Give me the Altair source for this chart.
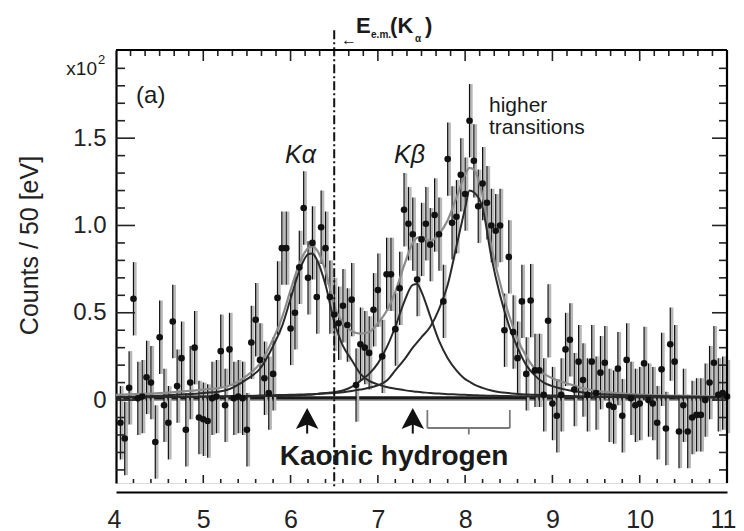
import altair as alt
import pandas as pd

# ---------------- axis extents ----------------
X_DOMAIN = [4.0, 11.0]
Y_DOMAIN = [-0.475, 2.005]
X_LABELS = [4, 5, 6, 7, 8, 9, 10, 11]
Y_LABELS = [0, 0.5, 1.0, 1.5]

# ---------------- measured spectrum (x10^2 counts / 50 eV) ----------------
E_FIRST = 4.05
E_BIN = 0.05
COUNTS = [
    -0.13, -0.22, 0.07, 0.58, 0.01, 0.02, 0.13, 0.10, -0.24, 0.36,
    -0.03, -0.13, 0.45, 0.08, 0.24, -0.17, 0.10, 0.30, -0.10, -0.11,
    -0.12, 0.01, 0.02, 0.28, -0.03, 0.29, 0.01, 0.02, 0.01, -0.17,
    0.33, 0.46, 0.23, 0.125, 0.04, 0.15, 0.585, 0.87, 0.87, 0.41,
    0.50, 0.76, 1.10, 0.70, 0.90, 0.59, 0.99, 0.87, 0.59, 0.49,
    0.44, 0.54, 0.43, 0.575, 0.086, 0.32, 0.30, 0.27, 0.517, 0.63,
    0.25, 0.72, 0.72, 0.406, 0.64, 1.09, 1.01, 0.95, 0.69, 0.92,
    1.01, 0.89, 1.06, 0.95, 0.565, 1.38, 1.015, 1.05, 1.29, 1.18,
    1.60, 1.37, 1.11, 1.24, 1.13, 1.00, 0.97, 1.00, 0.40, 0.82,
    0.39, 0.24, 0.565, 0.15, 0.57, 0.17, 0.17, 0.03, 0.454, -0.02,
    -0.09, 0.03, 0.29, 0.345, 0.06, 0.22, 0.115, 0.03, 0.22, 0.04,
    0.157, 0.214, -0.03, -0.04, 0.18, -0.09, 0.23, 0.01, -0.03, -0.02,
    0.21, 0.0, -0.02, -0.13, 0.176, -0.163, 0.32, 0.22, -0.18, -0.03,
    -0.18, -0.10, -0.085, -0.085, 0.0, 0.10, 0.214, 0.03, 0.04, 0.02,
]
STAT_ERR = 0.21

# ---------------- fit curves ----------------
CURVE_E = [4.0, 4.5, 5.0, 5.25, 5.5, 5.65, 5.8, 5.9, 6.0, 6.1, 6.2, 6.25, 6.3, 6.4,
           6.5, 6.6, 6.7, 6.8, 6.9, 7.0, 7.1, 7.2, 7.3, 7.4, 7.45, 7.5, 7.6, 7.7,
           7.8, 7.9, 8.0, 8.05, 8.1, 8.2, 8.3, 8.4, 8.5, 8.6, 8.7, 8.8, 8.9, 9.0,
           9.2, 9.4, 9.7, 10.0, 10.5, 11.0]
KALPHA = [0.018, 0.025, 0.04, 0.055, 0.12, 0.18, 0.31, 0.42, 0.58, 0.74, 0.835, 0.84,
          0.805, 0.66, 0.45, 0.31, 0.23, 0.15, 0.11, 0.09, 0.075, 0.065, 0.057, 0.05,
          0.047, 0.045, 0.04, 0.037, 0.034, 0.032, 0.03, 0.029, 0.028, 0.026, 0.025,
          0.024, 0.023, 0.022, 0.021, 0.02, 0.02, 0.019, 0.018, 0.018, 0.017, 0.016,
          0.015, 0.015]
KBETA = [0.016, 0.017, 0.019, 0.02, 0.021, 0.022, 0.023, 0.024, 0.025, 0.027, 0.03,
         0.032, 0.035, 0.04, 0.045, 0.055, 0.075, 0.11, 0.15, 0.21, 0.30, 0.42, 0.56,
         0.66, 0.665, 0.62, 0.48, 0.34, 0.24, 0.17, 0.12, 0.105, 0.09, 0.07, 0.055,
         0.045, 0.04, 0.035, 0.032, 0.03, 0.028, 0.026, 0.023, 0.021, 0.02, 0.018,
         0.017, 0.016]
HIGHER = [0.016, 0.017, 0.02, 0.022, 0.024, 0.026, 0.028, 0.029, 0.03, 0.032, 0.033,
          0.034, 0.035, 0.038, 0.04, 0.045, 0.052, 0.06, 0.07, 0.085, 0.11, 0.17, 0.23,
          0.30, 0.33, 0.36, 0.42, 0.52, 0.66, 0.88, 1.10, 1.20, 1.19, 1.10, 0.82, 0.60,
          0.43, 0.30, 0.20, 0.14, 0.10, 0.08, 0.055, 0.04, 0.03, 0.025, 0.02, 0.017]
TOTAL = [0.03, 0.04, 0.06, 0.075, 0.14, 0.21, 0.35, 0.47, 0.63, 0.78, 0.87, 0.88, 0.86,
         0.74, 0.54, 0.44, 0.395, 0.38, 0.39, 0.44, 0.51, 0.62, 0.77, 0.90, 0.93,
         0.935, 0.91, 0.95, 1.03, 1.16, 1.29, 1.33, 1.32, 1.17, 0.88, 0.67, 0.49, 0.35,
         0.25, 0.18, 0.15, 0.125, 0.09, 0.062, 0.042, 0.032, 0.024, 0.02]
BASE_E = [4.0, 11.0]
BASE_V = [0.012, 0.012]

# ---------------- annotations ----------------
EM_LINE_E = 6.50
EM_LINE_TOP = 2.118
EM_LINE_BOTTOM = -0.50
ARROW_E = [6.19, 7.40]
ARROW_TIP_CENTER = -0.131
ARROW_STEM_END = -0.192
BRACKET_L, BRACKET_R, BRACKET_C = 7.567, 8.512, 8.042
BRACKET_Y, BRACKET_TOP, BRACKET_TICK = -0.160, -0.057, -0.197

FONT = "Liberation Sans"
INK = "#111111"

W, H = 611, 433

x_axis = alt.Axis(values=X_LABELS, format="d", ticks=False, domainColor="#000", domainWidth=2.2,
                  labelFontSize=25, labelColor="#222", labelPadding=15, offset=9, grid=False,
                  title=None, labelFont=FONT, labelFlush=True, labelFlushOffset=9,
                  labelOverlap=False)
y_axis = alt.Axis(values=Y_LABELS, labelExpr="datum.value == 0 ? '0' : format(datum.value, '.1f')",
                  ticks=False, domainColor="#000", domainWidth=2.2, labelFontSize=24,
                  labelColor="#222", labelPadding=10, grid=False, labelFont=FONT,
                  title="Counts / 50 [eV]", titleFontSize=25, titleFontWeight="normal",
                  titleFont=FONT, titleColor="#222", titleX=-79, titleY=195, titleAngle=270,
                  titleBaseline="alphabetic", titleAlign="center")


def X(field):
    return alt.X(field, type="quantitative",
                 scale=alt.Scale(domain=X_DOMAIN, nice=False, zero=False), axis=x_axis)


def Y(field):
    return alt.Y(field, type="quantitative",
                 scale=alt.Scale(domain=Y_DOMAIN, nice=False, zero=False), axis=y_axis)


energies = [round(E_FIRST + E_BIN * i, 3) for i in range(len(COUNTS))]
pts = pd.DataFrame({"E": energies, "v": COUNTS})
pts["lo"] = pts["v"] - STAT_ERR
pts["hi"] = pts["v"] + STAT_ERR

curves = pd.DataFrame({"E": CURVE_E, "ka": KALPHA, "kb": KBETA, "hi": HIGHER, "tot": TOTAL})
base = pd.DataFrame({"E": BASE_E, "v": BASE_V})
zero = pd.DataFrame({"E": BASE_E, "v": [0.0, 0.0]})

layers = []

# thin zero line and thick background fit line
layers.append(alt.Chart(zero).mark_line(color="#555", strokeWidth=1).encode(x=X("E"), y=Y("v")))
layers.append(alt.Chart(base).mark_line(color="#1a1a1a", strokeWidth=3.2).encode(x=X("E"), y=Y("v")))

# grey shadow bars and black statistical error bars
layers.append(alt.Chart(pts).mark_rule(color="#b8b8b8", strokeWidth=2.8, xOffset=1.8).encode(
    x=X("E"), y=Y("lo"), y2=alt.Y2("hi")))
layers.append(alt.Chart(pts).mark_rule(color=INK, strokeWidth=1.2).encode(
    x=X("E"), y=Y("lo"), y2=alt.Y2("hi")))

# fit curves
layers.append(alt.Chart(curves).mark_line(color="#8c8c8c", strokeWidth=2.2, interpolate="monotone",
                                          clip=True).encode(x=X("E"), y=Y("tot")))
for col in ["ka", "kb", "hi"]:
    layers.append(alt.Chart(curves).mark_line(color="#2a2a2a", strokeWidth=2,
                                              interpolate="monotone", clip=True).encode(
        x=X("E"), y=Y(col)))

# data points
layers.append(alt.Chart(pts).mark_circle(size=44, color=INK, opacity=1).encode(x=X("E"), y=Y("v")))

# E_e.m.(K_alpha) dash-dot line
em = pd.DataFrame({"E": [EM_LINE_E], "top": [EM_LINE_TOP], "bot": [EM_LINE_BOTTOM]})
layers.append(alt.Chart(em).mark_rule(color=INK, strokeWidth=2, strokeDash=[9, 3, 2, 3]).encode(
    x=X("E"), y=Y("top"), y2=alt.Y2("bot")))

# arrows for K-alpha, K-beta
arr = pd.DataFrame({"E": ARROW_E, "c": [ARROW_TIP_CENTER] * 2, "s": [ARROW_STEM_END] * 2})
layers.append(alt.Chart(arr).mark_rule(color=INK, strokeWidth=2).encode(
    x=X("E"), y=Y("c"), y2=alt.Y2("s")))
layers.append(alt.Chart(arr).mark_point(shape="M0,-1L0.75,0.4L0,0.1L-0.75,0.4Z", filled=True,
                                        size=900, color=INK, opacity=1, strokeWidth=0).encode(
    x=X("E"), y=Y("c")))

# bracket for higher transitions
br_h = pd.DataFrame({"a": [BRACKET_L], "b": [BRACKET_R], "y": [BRACKET_Y]})
br_v = pd.DataFrame({"E": [BRACKET_L, BRACKET_R, BRACKET_C],
                     "y1": [BRACKET_TOP, BRACKET_TOP, BRACKET_Y],
                     "y2": [BRACKET_Y, BRACKET_Y, BRACKET_TICK]})
layers.append(alt.Chart(br_h).mark_rule(color="#7a7a7a", strokeWidth=1.8).encode(
    x=X("a"), x2=alt.X2("b"), y=Y("y")))
layers.append(alt.Chart(br_v).mark_rule(color="#7a7a7a", strokeWidth=1.8).encode(
    x=X("E"), y=Y("y1"), y2=alt.Y2("y2")))


def text_layer(rows, **kw):
    df = pd.DataFrame(rows, columns=["E", "v", "t"])
    props = dict(align="left", baseline="alphabetic", font=FONT, color="#1a1a1a")
    props.update(kw)
    return alt.Chart(df).mark_text(**props).encode(x=X("E"), y=Y("v"), text="t:N")


layers.append(text_layer([(4.23, 1.700, "(a)")], fontSize=24))
layers.append(text_layer([(3.782, 1.860, "x10")], fontSize=19, align="right"))
layers.append(text_layer([(3.794, 1.923, "2")], fontSize=13))
layers.append(text_layer([(5.936, 1.357, "Kα"), (7.185, 1.357, "Kβ")], fontSize=25,
                         fontStyle="italic"))
layers.append(text_layer([(8.273, 1.652, "higher"), (8.273, 1.523, "transitions")], fontSize=21))
layers.append(text_layer([(7.185, -0.372, "Kaonic hydrogen")], fontSize=28, fontWeight="bold",
                         align="center"))
layers.append(text_layer([(6.75, 2.101, "E"), (7.14, 2.101, "(K"), (7.54, 2.101, ")")],
                         fontSize=22, fontWeight="bold"))
layers.append(text_layer([(6.922, 2.072, "e.m."), (7.426, 2.052, "α")], fontSize=10,
                         fontWeight="bold"))
layers.append(text_layer([(6.67, 2.061, "←")], fontSize=16, fontWeight="bold", align="center",
                         baseline="middle"))

# inward ticks
LEFT_MINOR = [round(-0.4 + 0.1 * k, 1) for k in range(24) if round(-0.4 + 0.1 * k, 1) not in Y_LABELS]
TOP_MAJOR = [5, 6, 7, 8, 9, 10]
TOP_MINOR = [4 + k / 6 for k in range(1, 42) if k % 6]
BOT_MAJOR = [5, 6, 7, 8, 9, 10]
BOT_MINOR = [round(4 + 0.2 * k, 1) for k in range(1, 35) if k % 5]

lm = pd.DataFrame({"v": Y_LABELS})
ln = pd.DataFrame({"v": LEFT_MINOR})
tm = pd.DataFrame({"E": TOP_MAJOR})
tn = pd.DataFrame({"E": TOP_MINOR})
bm = pd.DataFrame({"E": BOT_MAJOR})
bn = pd.DataFrame({"E": BOT_MINOR})
TK = dict(color="#222", strokeWidth=1.6)
layers.append(alt.Chart(lm).mark_rule(**TK).encode(y=Y("v"), x=alt.value(0), x2=alt.value(19)))
layers.append(alt.Chart(ln).mark_rule(**TK).encode(y=Y("v"), x=alt.value(0), x2=alt.value(9)))
layers.append(alt.Chart(lm).mark_rule(**TK).encode(y=Y("v"), x=alt.value(W - 15), x2=alt.value(W)))
layers.append(alt.Chart(ln).mark_rule(**TK).encode(y=Y("v"), x=alt.value(W - 8), x2=alt.value(W)))
layers.append(alt.Chart(tm).mark_rule(**TK).encode(x=X("E"), y=alt.value(0), y2=alt.value(11)))
layers.append(alt.Chart(tn).mark_rule(**TK).encode(x=X("E"), y=alt.value(0), y2=alt.value(6)))
layers.append(alt.Chart(bm).mark_rule(**TK).encode(x=X("E"), y=alt.value(H - 8), y2=alt.value(H)))
layers.append(alt.Chart(bn).mark_rule(**TK).encode(x=X("E"), y=alt.value(H - 4), y2=alt.value(H)))

# top and right frame lines
one = pd.DataFrame({"k": [0]})
layers.append(alt.Chart(one).mark_rule(color="#000", strokeWidth=2.2).encode(
    x=alt.value(0), x2=alt.value(W), y=alt.value(0)))
layers.append(alt.Chart(one).mark_rule(color="#000", strokeWidth=2.2).encode(
    x=alt.value(W), y=alt.value(0), y2=alt.value(H)))

chart = alt.layer(*layers).properties(
    width=W, height=H,
    padding={"left": 108, "top": 42, "right": 9, "bottom": 50},
    autosize=alt.AutoSizeParams(type="none"),
    background="white",
).configure_view(stroke=None).configure(font=FONT)

chart.save("out.html", embed_options={"renderer": "svg", "actions": False})
